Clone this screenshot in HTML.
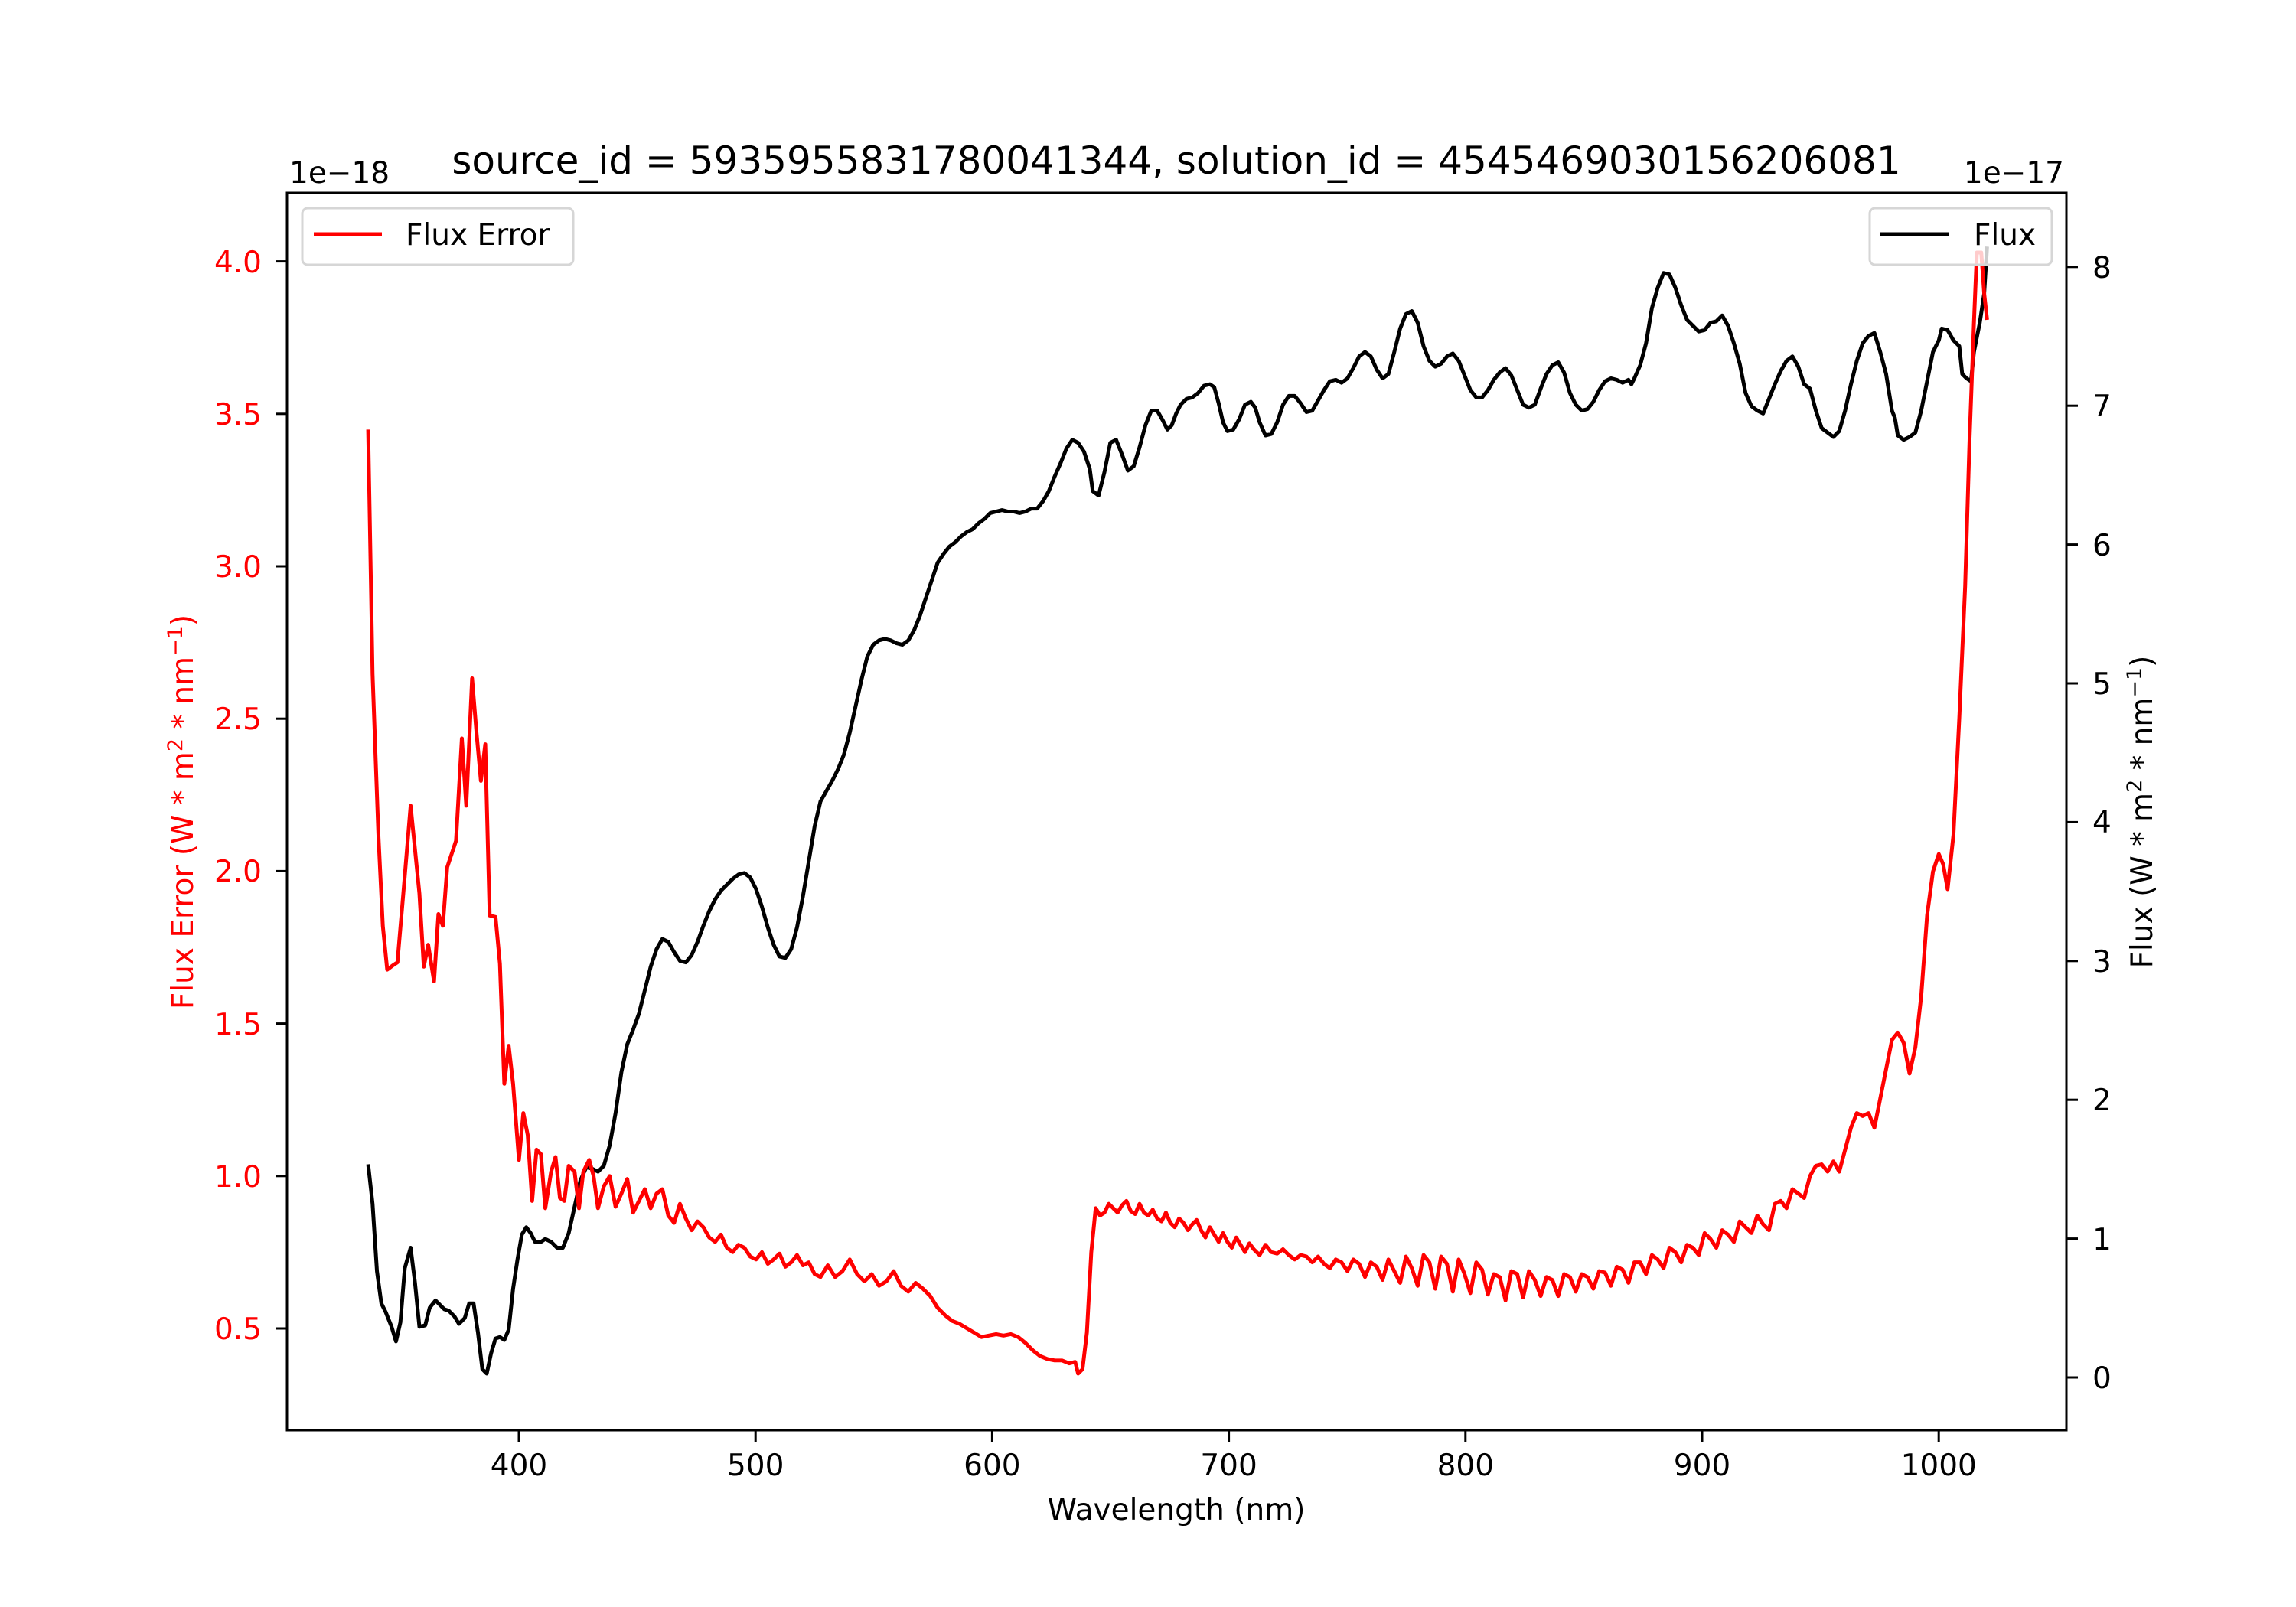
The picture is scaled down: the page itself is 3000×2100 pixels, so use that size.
<!DOCTYPE html>
<html><head><meta charset="utf-8"><style>
html,body{margin:0;padding:0;background:#fff}
svg{display:block}
text{font-family:"DejaVu Sans","Liberation Sans",sans-serif}
</style></head><body>
<svg width="3000" height="2100" viewBox="0 0 3000 2100" xmlns="http://www.w3.org/2000/svg">
<rect width="3000" height="2100" fill="#fff"/>
<text x="1537" y="227" font-size="50" text-anchor="middle">source_id = 5935955831780041344, solution_id = 4545469030156206081</text>
<text x="378" y="239" font-size="39">1e−18</text>
<text x="2697" y="239" font-size="39" text-anchor="end">1e−17</text>

<g transform="translate(1,1) scale(1.9126)" fill="none" stroke-linejoin="round" stroke-width="2.6">
<polyline stroke="#000" points="251,795 254,822 257,868 260,890 263,896 267,906 270,916 273,903 276,866 280,852 283,876 286,906 290,905 293,893 297,888 300,891 303,894 306,895 310,899 313,904 317,900 320,890 323,890 326,910 329,935 332,938 335,924 338,914 341,913 344,915 347,908 350,880 353,860 356,843 359,838 362,842 365,848 369,848 372,846 376,848 380,852 384,852 388,842 392,824 396,806 400,797 404,798 408,800 412,796 416,782 420,760 424,732 428,713 432,703 436,692 440,676 444,660 448,648 452,641 456,643 460,650 464,656 468,657 472,652 476,643 480,632 484,622 488,614 492,608 496,604 500,600 504,597 508,596 512,599 516,607 520,619 524,633 528,645 532,653 536,654 540,648 544,633 548,612 552,588 556,564 560,547 564,540 568,533 572,525 576,515 580,500 584,482 588,464 592,448 596,440 600,437 604,436 608,437 612,439 616,440 620,437 624,430 628,420 632,408 636,396 640,384 644,378 648,373 652,370 656,366 660,363 664,361 668,357 672,354 676,350 680,349 684,348 688,349 692,349 696,350 700,349 704,347 708,347 712,342 716,335 720,325 724,316 728,306 732,300 736,302 740,308 744,320 746,335 750,338 754,322 758,302 762,300 766,310 770,321 774,318 778,305 782,290 786,280 790,280 794,287 797,293 800,290 803,282 806,276 810,272 814,271 818,268 822,263 826,262 829,264 832,275 835,288 838,294 842,293 846,286 850,276 854,274 857,278 860,288 864,297 868,296 872,288 876,276 880,270 884,270 888,275 892,281 896,280 900,273 904,266 908,260 912,259 916,261 920,258 924,251 928,243 932,240 936,243 940,252 944,258 948,255 952,240 956,224 960,214 964,212 968,220 972,236 976,246 980,250 984,248 988,243 992,241 996,246 1000,256 1004,266 1008,271 1012,271 1016,266 1020,259 1024,254 1028,251 1032,256 1036,266 1040,276 1044,278 1048,276 1052,265 1056,255 1060,249 1064,247 1068,254 1072,268 1076,276 1080,280 1084,279 1088,274 1092,266 1096,260 1100,258 1104,259 1108,261 1112,259 1114,262 1116,258 1120,249 1124,234 1128,210 1132,196 1136,186 1140,187 1144,196 1148,208 1152,218 1156,222 1160,226 1164,225 1168,220 1172,219 1176,215 1180,222 1184,234 1188,248 1192,268 1196,277 1200,280 1204,282 1208,272 1212,262 1216,253 1220,246 1224,243 1228,250 1232,262 1236,265 1240,280 1244,292 1248,295 1252,298 1256,294 1260,280 1264,262 1268,246 1272,234 1276,229 1280,227 1284,240 1288,255 1292,280 1294,285 1296,297 1300,300 1304,298 1308,295 1312,280 1316,260 1320,240 1324,232 1326,224 1330,225 1334,232 1338,236 1340,255 1343,258 1346,260 1348,240 1352,220 1355,200 1357,168"/>
<polyline stroke="#f00" points="251,293 254,460 258,570 261,632 264,662 268,659 271,657 275,610 280,550 283,580 286,610 289,660 292,645 296,670 299,624 302,632 305,592 311,574 315,504 318,550 322,463 325,500 328,533 331,508 334,625 338,626 341,658 344,740 347,714 350,740 354,792 357,760 360,775 363,820 366,785 369,788 372,825 376,800 379,790 382,818 385,820 388,796 392,800 395,825 398,800 402,792 405,803 408,825 412,810 416,803 420,824 424,815 428,805 432,828 436,820 440,812 444,825 448,815 452,812 456,830 460,835 464,822 468,832 472,840 476,834 480,838 484,845 488,848 492,843 496,852 500,855 504,850 508,852 512,858 516,860 520,855 524,863 528,860 532,856 536,865 540,862 544,857 548,864 552,862 556,870 560,872 565,864 570,872 575,868 580,860 585,870 590,875 595,870 600,878 605,875 610,868 615,878 620,882 625,876 630,880 635,885 640,893 645,898 650,902 655,904 660,907 665,910 670,913 675,912 680,911 685,912 690,911 695,913 700,917 705,922 710,926 715,928 720,929 725,929 730,931 734,930 736,938 739,935 742,910 745,855 748,825 751,830 754,828 757,822 760,825 763,828 766,823 769,820 772,827 775,829 778,822 781,828 784,830 787,826 790,832 793,834 796,828 799,835 802,838 805,832 808,835 811,840 814,836 817,833 820,840 823,845 826,838 829,843 832,848 835,842 838,848 841,852 844,845 847,850 850,855 853,849 856,853 860,857 864,850 868,855 872,856 876,853 880,857 884,860 888,857 892,858 896,862 900,858 904,863 908,866 912,860 916,862 920,868 924,860 928,863 932,872 936,862 940,865 944,874 948,860 952,868 956,876 960,858 964,866 968,878 972,857 976,862 980,880 984,858 988,863 992,882 996,860 1000,870 1004,883 1008,862 1012,867 1016,884 1020,870 1024,872 1028,888 1032,868 1036,870 1040,886 1044,868 1048,874 1052,885 1056,872 1060,874 1064,885 1068,870 1072,872 1076,882 1080,870 1084,872 1088,880 1092,868 1096,869 1100,878 1104,865 1108,867 1112,876 1116,862 1120,862 1124,870 1128,857 1132,860 1136,866 1140,852 1144,855 1148,862 1152,850 1156,852 1160,857 1164,842 1168,846 1172,852 1176,840 1180,843 1184,848 1188,834 1192,838 1196,842 1200,830 1204,836 1208,840 1212,822 1216,820 1220,825 1224,812 1228,815 1232,818 1236,803 1240,796 1244,795 1248,800 1252,793 1256,800 1260,785 1264,770 1268,760 1272,762 1276,760 1280,770 1284,750 1288,730 1292,710 1296,705 1300,712 1304,733 1308,715 1312,680 1316,625 1320,595 1324,583 1327,590 1330,607 1334,570 1338,490 1342,400 1345,300 1348,220 1350,172 1353,172 1355,200 1357,218"/>
</g>

<rect x="375" y="252" width="2325" height="1617" fill="none" stroke="#000" stroke-width="3"/>

<g stroke="#000" stroke-width="3">
<line x1="678" y1="1869" x2="678" y2="1884"/><line x1="987.2" y1="1869" x2="987.2" y2="1884"/><line x1="1296.4" y1="1869" x2="1296.4" y2="1884"/><line x1="1605.6" y1="1869" x2="1605.6" y2="1884"/><line x1="1914.8" y1="1869" x2="1914.8" y2="1884"/><line x1="2224" y1="1869" x2="2224" y2="1884"/><line x1="2533.2" y1="1869" x2="2533.2" y2="1884"/>
</g>
<g font-size="39" text-anchor="middle">
<text x="678" y="1928">400</text><text x="987.2" y="1928">500</text><text x="1296.4" y="1928">600</text><text x="1605.6" y="1928">700</text><text x="1914.8" y="1928">800</text><text x="2224" y="1928">900</text><text x="2533.2" y="1928">1000</text>
</g>
<text x="1537" y="1986" font-size="39" text-anchor="middle">Wavelength (nm)</text>

<g stroke="#000" stroke-width="3">
<line x1="360" y1="1736" x2="375" y2="1736"/><line x1="360" y1="1536.8" x2="375" y2="1536.8"/><line x1="360" y1="1337.6" x2="375" y2="1337.6"/><line x1="360" y1="1138.4" x2="375" y2="1138.4"/><line x1="360" y1="939.2" x2="375" y2="939.2"/><line x1="360" y1="740" x2="375" y2="740"/><line x1="360" y1="540.8" x2="375" y2="540.8"/><line x1="360" y1="341.6" x2="375" y2="341.6"/>
</g>
<g font-size="39" text-anchor="end" fill="#f00">
<text x="342" y="1750">0.5</text><text x="342" y="1551">1.0</text><text x="342" y="1352">1.5</text><text x="342" y="1152">2.0</text><text x="342" y="953">2.5</text><text x="342" y="754">3.0</text><text x="342" y="555">3.5</text><text x="342" y="356">4.0</text>
</g>
<text transform="translate(252,1061) rotate(-90)" font-size="39" text-anchor="middle" fill="#f00">Flux Error (W * m<tspan font-size="27" dy="-14">2</tspan><tspan dy="14"> * nm</tspan><tspan font-size="27" dy="-14">−1</tspan><tspan dy="14">)</tspan></text>

<g stroke="#000" stroke-width="3">
<line x1="2700" y1="1800" x2="2715" y2="1800"/><line x1="2700" y1="1618.6" x2="2715" y2="1618.6"/><line x1="2700" y1="1437.2" x2="2715" y2="1437.2"/><line x1="2700" y1="1255.8" x2="2715" y2="1255.8"/><line x1="2700" y1="1074.4" x2="2715" y2="1074.4"/><line x1="2700" y1="893" x2="2715" y2="893"/><line x1="2700" y1="711.6" x2="2715" y2="711.6"/><line x1="2700" y1="530.2" x2="2715" y2="530.2"/><line x1="2700" y1="348.8" x2="2715" y2="348.8"/>
</g>
<g font-size="39">
<text x="2734" y="1814">0</text><text x="2734" y="1633">1</text><text x="2734" y="1451">2</text><text x="2734" y="1270">3</text><text x="2734" y="1088">4</text><text x="2734" y="907">5</text><text x="2734" y="726">6</text><text x="2734" y="544">7</text><text x="2734" y="363">8</text>
</g>
<text transform="translate(2812,1061) rotate(-90)" font-size="39" text-anchor="middle">Flux (W * m<tspan font-size="27" dy="-14">2</tspan><tspan dy="14"> * nm</tspan><tspan font-size="27" dy="-14">−1</tspan><tspan dy="14">)</tspan></text>

<rect x="395" y="272" width="354" height="74" rx="7" fill="#fff" fill-opacity="0.8" stroke="#d6d6d6" stroke-width="3"/>
<line x1="410" y1="306" x2="499" y2="306" stroke="#f00" stroke-width="5"/>
<text x="530" y="320" font-size="39">Flux Error</text>
<rect x="2443" y="272" width="238" height="74" rx="7" fill="#fff" fill-opacity="0.8" stroke="#d6d6d6" stroke-width="3"/>
<line x1="2456" y1="306" x2="2546" y2="306" stroke="#000" stroke-width="5"/>
<text x="2579" y="320" font-size="39">Flux</text>
</svg>
</body></html>
